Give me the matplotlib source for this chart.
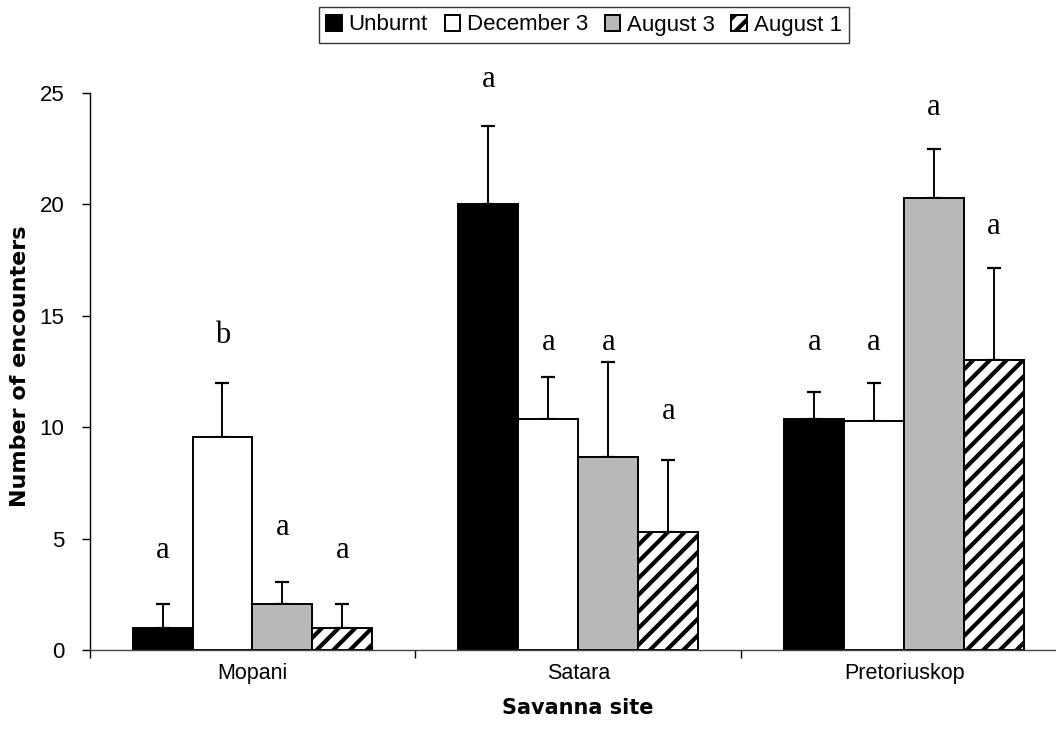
import matplotlib.pyplot as plt
import numpy as np

plt.rcParams.update(
    {
        "font.family": "Liberation Sans",
        "hatch.linewidth": 3.0,
        "axes.spines.top": False,
        "axes.spines.right": False,
    }
)

sites = ["Mopani", "Satara", "Pretoriuskop"]
treatments = ["Unburnt", "December 3", "August 3", "August 1"]

# mean encounters per treatment, one value per site
unburnt = [1.0, 20.0, 10.35]
december3 = [9.55, 10.35, 10.3]
august3 = [2.05, 8.65, 20.3]
august1 = [1.0, 5.3, 13.0]

# upper error (SE) per treatment
unburnt_err = [1.05, 3.5, 1.25]
december3_err = [2.45, 1.9, 1.7]
august3_err = [1.0, 4.3, 2.2]
august1_err = [1.05, 3.25, 4.15]

# significance letters and the height they sit at
letters = [
    ["a", "b", "a", "a"],
    ["a", "a", "a", "a"],
    ["a", "a", "a", "a"],
]
letter_y = [
    [4.45, 14.1, 5.5, 4.45],
    [25.6, 13.8, 13.8, 10.7],
    [13.8, 13.8, 24.35, 19.0],
]

means = [unburnt, december3, august3, august1]
errors = [unburnt_err, december3_err, august3_err, august1_err]
styles = [
    dict(facecolor="black", hatch=None),
    dict(facecolor="white", hatch=None),
    dict(facecolor="#b8b8b8", hatch=None),
    dict(facecolor="white", hatch="//"),
]

fig = plt.figure(figsize=(10.56, 7.38), dpi=100)
ax = fig.add_axes([0.0848, 0.1192, 0.9257, 0.7547])

x = np.arange(len(sites))
width = 0.184
handles = []
for i, (vals, errs, st) in enumerate(zip(means, errors, styles)):
    pos = x + (i - 1.5) * width
    ax.errorbar(
        pos,
        vals,
        yerr=[np.zeros(len(errs)), errs],
        fmt="none",
        ecolor="black",
        elinewidth=1.4,
        capsize=5,
        capthick=1.6,
        zorder=1,
    )
    bars = ax.bar(
        pos,
        vals,
        width=width,
        facecolor=st["facecolor"],
        hatch=st["hatch"],
        edgecolor="black",
        linewidth=1.4,
        label=treatments[i],
        zorder=2,
    )
    handles.append(bars)
    for j, p in enumerate(pos):
        ax.text(
            p,
            letter_y[j][i],
            letters[j][i],
            ha="center",
            va="center",
            fontsize=22,
            family="Liberation Serif",
            clip_on=False,
        )

ax.set_xlim(-0.5, len(sites) - 0.5)
ax.set_ylim(0, 25)
ax.set_yticks(np.arange(0, 26, 5))
ax.set_xticks(x, labels=sites)
ax.set_xticks(np.arange(-0.5, len(sites), 1.0), minor=True)
ax.tick_params(axis="x", which="major", length=0, pad=9, labelsize=15.5)
ax.tick_params(axis="x", which="minor", length=6, width=1.0, direction="out")
ax.tick_params(axis="y", length=6, width=1.0, direction="out", labelsize=16, pad=12)
ax.spines["left"].set_linewidth(1.0)
ax.spines["bottom"].set_linewidth(1.0)
ax.spines["bottom"].set_color("#444444")

ax.set_ylabel("Number of encounters", fontsize=16, fontweight="bold",
              family="DejaVu Sans", va="center")
ax.yaxis.set_label_coords(-0.071, 0.51)
ax.set_xlabel("Savanna site", fontsize=15, fontweight="bold",
              family="DejaVu Sans", va="center")
ax.xaxis.set_label_coords(0.4997, -0.104)

fig.legend(
    handles,
    treatments,
    loc="center",
    bbox_to_anchor=(584 / 1056, 1 - 25 / 738),
    ncol=4,
    fontsize=16,
    frameon=True,
    fancybox=False,
    edgecolor="black",
    handlelength=0.7,
    handleheight=0.7,
    handletextpad=0.3,
    columnspacing=0.75,
    borderpad=0.35,
    borderaxespad=0,
).get_frame().set_linewidth(1.0)

fig.savefig("out.png", dpi=100, facecolor="white")
